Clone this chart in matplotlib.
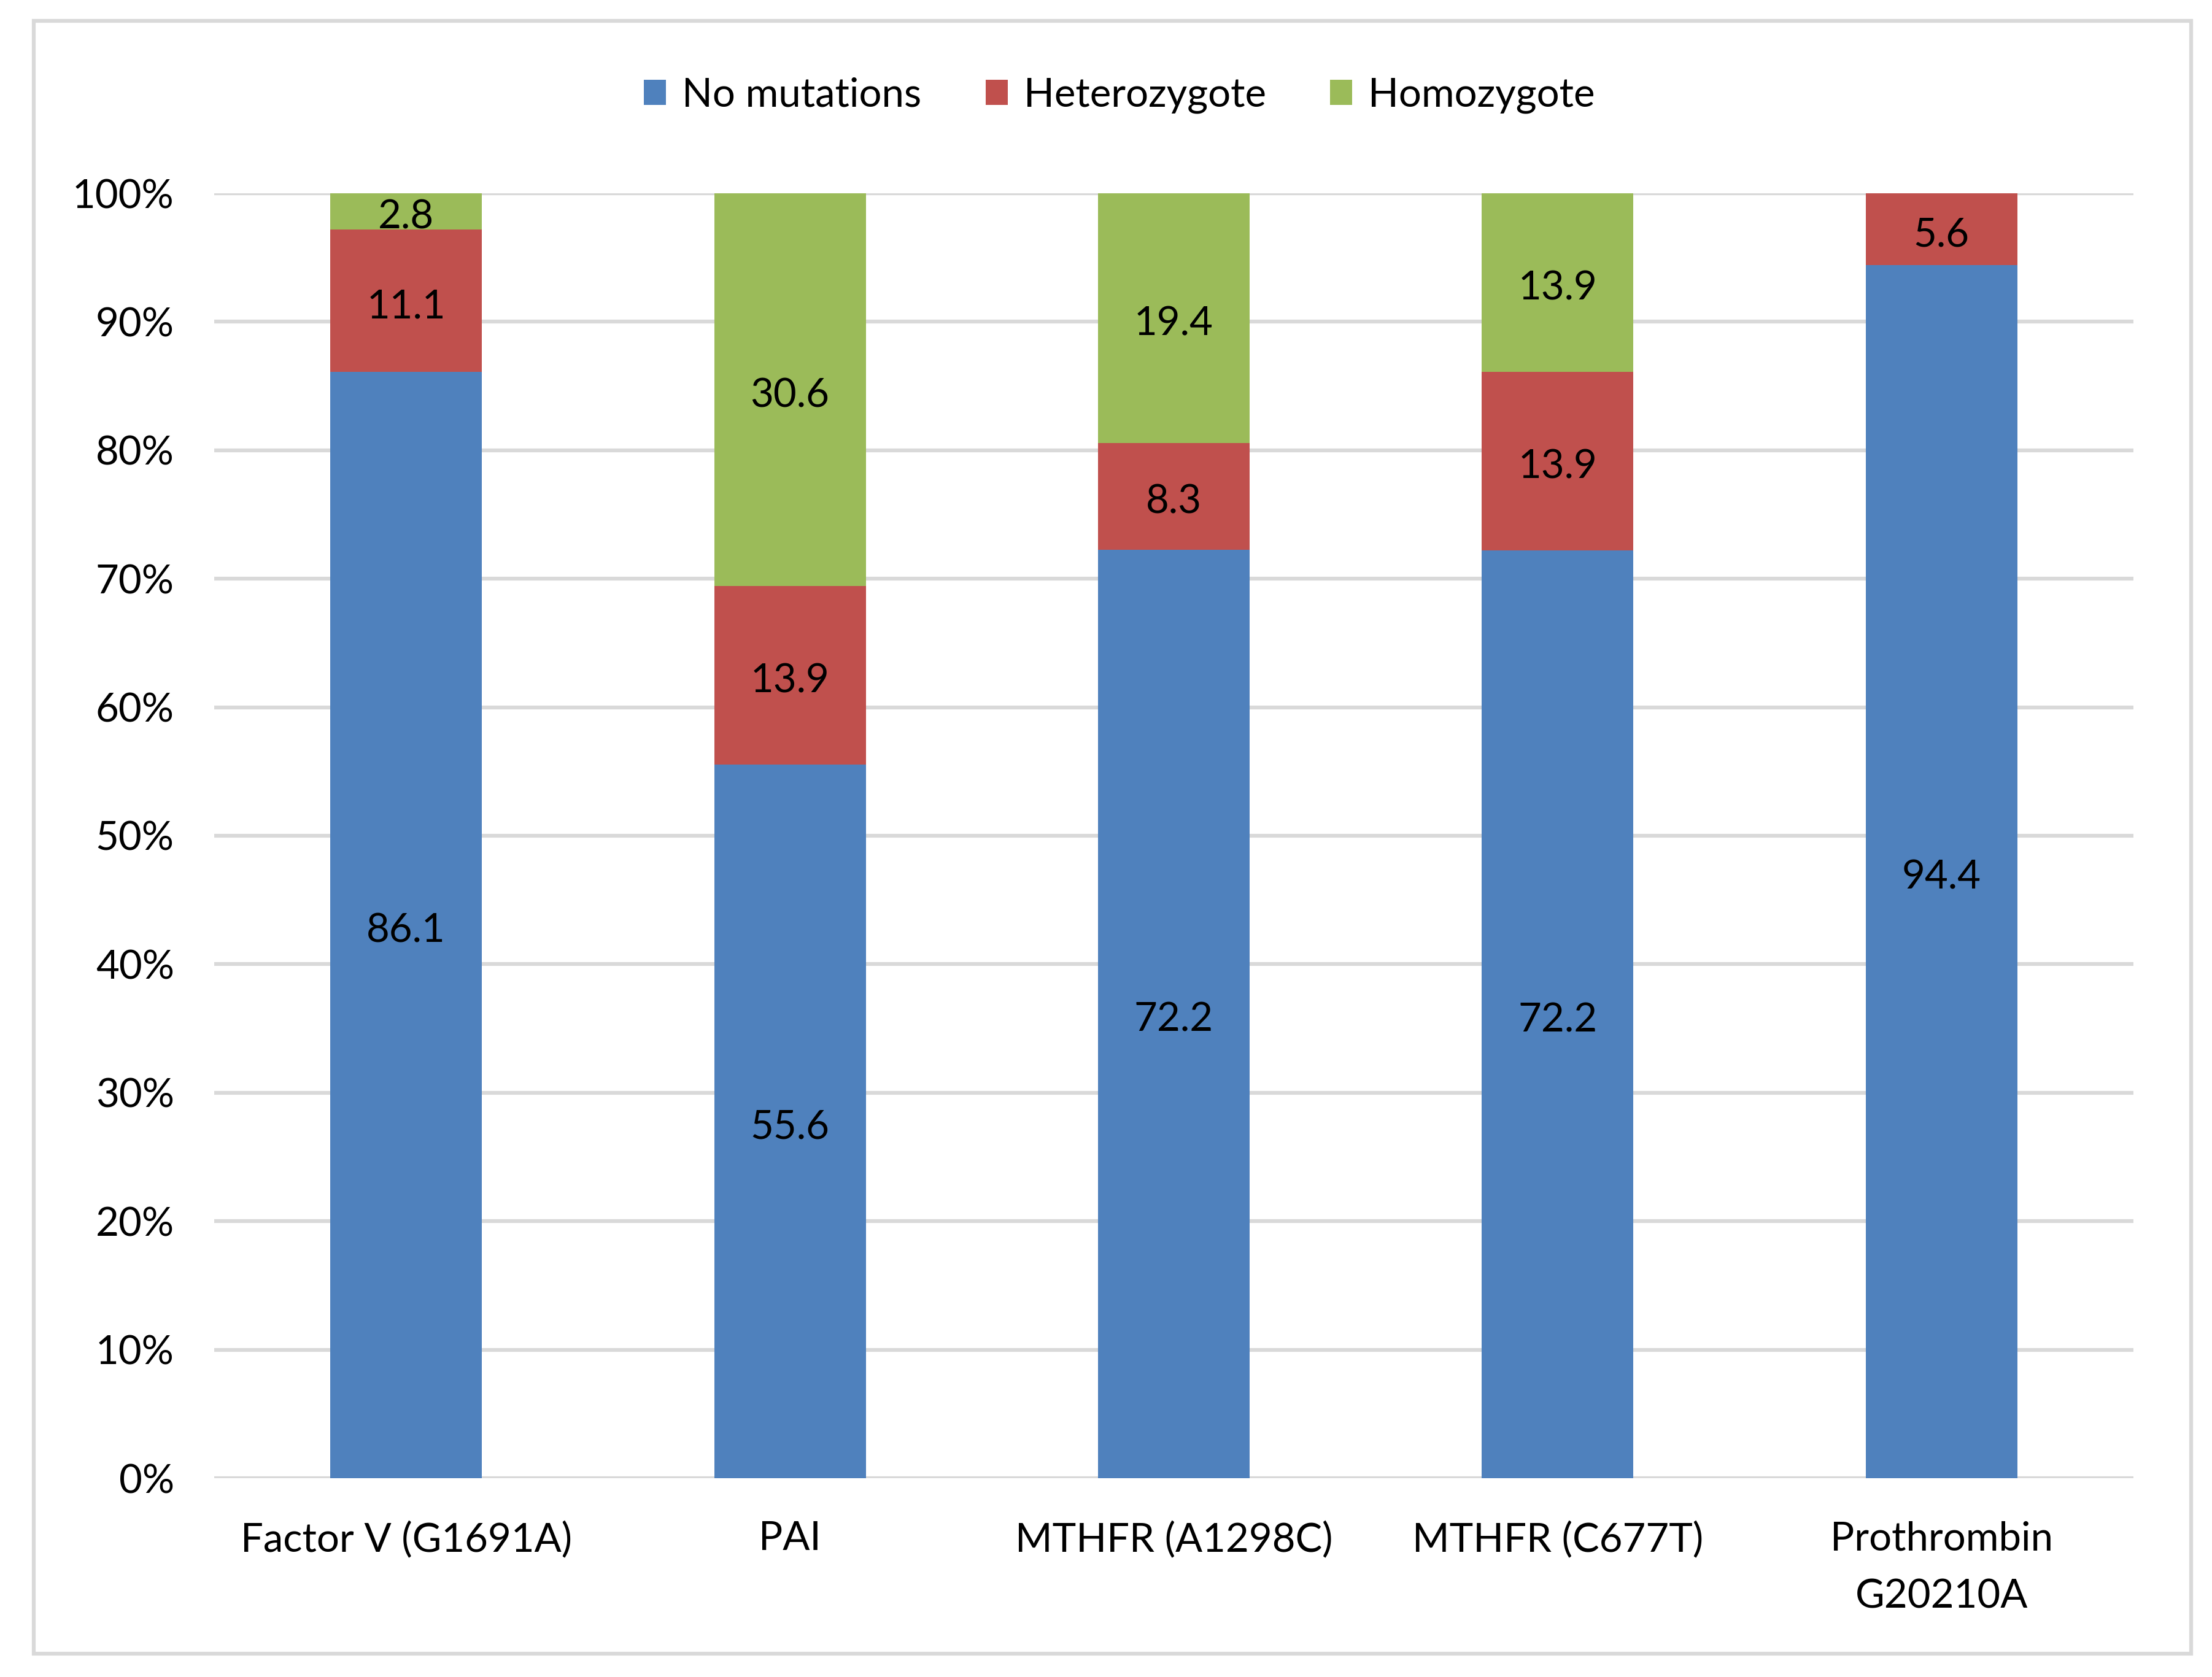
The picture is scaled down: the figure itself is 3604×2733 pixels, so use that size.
import matplotlib as mpl
mpl.use("Agg")
import matplotlib.pyplot as plt
from matplotlib.patches import Rectangle
import numpy as np

plt.rcParams['font.family'] = ['Lato', 'DejaVu Sans']

categories = ['Factor V (G1691A)', 'PAI', 'MTHFR (A1298C)', 'MTHFR (C677T)', 'Prothrombin\nG20210A']
series_names = ['No mutations', 'Heterozygote', 'Homozygote']
no_mutations = [86.1, 55.6, 72.2, 72.2, 94.4]
heterozygote = [11.1, 13.9, 8.3, 13.9, 5.6]
homozygote = [2.8, 30.6, 19.4, 13.9, 0.0]
colors = ['#4f81bd', '#c0504d', '#9bbb59']

W, H = 3605, 2733
fig = plt.figure(figsize=(W / 100, H / 100), dpi=100)
ax = fig.add_axes([349 / W, 1 - 2409 / H, (3476 - 349) / W, (2409 - 315) / H])

# outer chart border
fig.patches.append(Rectangle((55 / W, 1 - 2695 / H), (3570 - 55) / W, (2695 - 34) / H,
                             transform=fig.transFigure, fill=False,
                             edgecolor='#d9d9d9', linewidth=4.5))

fs = 47
values = np.array([no_mutations, heterozygote, homozygote])
totals = values.sum(axis=0)
shares = values / totals * 100
x = np.arange(len(categories))
bottom = np.zeros(len(categories))
for k in range(3):
    ax.bar(x, shares[k], 0.395, bottom=bottom, color=colors[k],
           label=series_names[k], zorder=3)
    for i in range(len(categories)):
        if values[k, i] > 0:
            ax.text(x[i], bottom[i] + shares[k, i] / 2 - 0.2, '%.1f' % values[k, i],
                    ha='center', va='center_baseline', fontsize=fs, color='black', zorder=4)
    bottom += shares[k]

ax.set_xlim(-0.5, len(categories) - 0.5)
ax.set_ylim(0, 100)
ax.set_yticks(np.arange(0, 101, 10))
ax.set_yticklabels(['%d%%' % v for v in range(0, 101, 10)], fontsize=fs)
ax.set_xticks(x)
ax.set_xticklabels(categories, fontsize=fs, linespacing=1.72)
ax.tick_params(axis='both', length=0, colors='black')
ax.tick_params(axis='y', pad=47)
ax.tick_params(axis='x', pad=50)
ax.yaxis.grid(True, color='#d9d9d9', linewidth=4.5, zorder=0)
ax.set_axisbelow(True)
for s in ax.spines.values():
    s.set_visible(False)

fig.legend(loc='center', bbox_to_anchor=(0.506, 1 - 155 / H), ncol=3, frameon=False,
           fontsize=fs, handlelength=0.55, handleheight=0.6, handletextpad=0.4,
           columnspacing=1.6)

fig.savefig('out.png', dpi=100)
